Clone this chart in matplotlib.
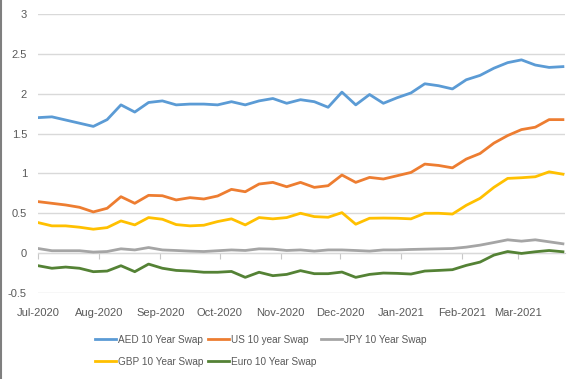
import numpy as np
import pandas as pd
import matplotlib
matplotlib.use("Agg")
import matplotlib.pyplot as plt
import matplotlib.dates as mdates
from matplotlib.lines import Line2D
from matplotlib.ticker import FuncFormatter

plt.rcParams['font.family'] = ['Liberation Sans', 'DejaVu Sans']

# weekly observations, Jul-2020 .. Mar-2021
dates = pd.date_range("2020-07-01", periods=39, freq="7D")

aed = [1.70, 1.71, 1.67, 1.63, 1.59, 1.675, 1.86, 1.77, 1.89, 1.91,
       1.86, 1.87, 1.87, 1.86, 1.90, 1.86, 1.91, 1.94, 1.88, 1.925,
       1.90, 1.83, 2.02, 1.86, 1.99, 1.88, 1.95, 2.01, 2.125, 2.10,
       2.06, 2.175, 2.23, 2.32, 2.39, 2.425, 2.36, 2.33, 2.34]
us = [0.646, 0.625, 0.604, 0.575, 0.517, 0.5625, 0.708, 0.625, 0.725, 0.72,
      0.667, 0.696, 0.679, 0.717, 0.80, 0.77, 0.867, 0.8875, 0.833, 0.8875,
      0.825, 0.846, 0.98, 0.8875, 0.95, 0.93, 0.971, 1.0125, 1.117, 1.10,
      1.07, 1.18, 1.25, 1.38, 1.475, 1.55, 1.58, 1.675, 1.675]
jpy = [0.058, 0.03, 0.03, 0.03, 0.013, 0.02, 0.054, 0.04, 0.07, 0.04,
       0.033, 0.025, 0.02, 0.03, 0.04, 0.033, 0.054, 0.05, 0.033, 0.04,
       0.025, 0.04, 0.04, 0.033, 0.025, 0.04, 0.04, 0.046, 0.05, 0.054,
       0.058, 0.075, 0.10, 0.133, 0.167, 0.15, 0.167, 0.142, 0.117]
gbp = [0.383, 0.342, 0.342, 0.325, 0.30, 0.32, 0.404, 0.354, 0.446, 0.425,
       0.358, 0.342, 0.35, 0.396, 0.43, 0.354, 0.446, 0.43, 0.446, 0.50,
       0.458, 0.45, 0.508, 0.3625, 0.4375, 0.44, 0.4375, 0.43, 0.50, 0.50,
       0.49, 0.60, 0.6875, 0.825, 0.9375, 0.946, 0.958, 1.02, 0.99]
euro = [-0.158, -0.19, -0.175, -0.19, -0.233, -0.225, -0.158, -0.233, -0.1375, -0.19,
        -0.217, -0.225, -0.24, -0.24, -0.23, -0.304, -0.24, -0.283, -0.267, -0.22,
        -0.258, -0.258, -0.2375, -0.304, -0.267, -0.25, -0.254, -0.2625, -0.225, -0.217,
        -0.208, -0.154, -0.1125, -0.025, 0.02, -0.004, 0.017, 0.033, 0.017]

series = [
    ("AED 10 Year Swap", aed, "#5B9BD5"),
    ("US 10 year Swap", us, "#ED7D31"),
    ("JPY 10 Year Swap", jpy, "#A5A5A5"),
    ("GBP 10 Year Swap", gbp, "#FFC000"),
    ("Euro 10 Year Swap", euro, "#548235"),
]

fig = plt.figure(figsize=(5.77, 3.79), dpi=100)
ax = fig.add_axes([0.066, 0.227, 0.913, 0.736])

lines = {}
for name, vals, col in series:
    ln, = ax.plot(dates, vals, color=col, lw=2, label=name, solid_joinstyle='round')
    lines[name] = ln

ax.set_ylim(-0.5, 3)
ax.set_yticks(np.arange(-0.5, 3.01, 0.5))
ax.yaxis.set_major_formatter(FuncFormatter(lambda v, p: f"{v:g}"))
ax.set_xlim(pd.Timestamp("2020-07-01"), pd.Timestamp("2021-03-25"))
ax.xaxis.set_major_locator(mdates.MonthLocator())
ax.xaxis.set_major_formatter(mdates.DateFormatter("%b-%Y"))

ax.grid(axis='y', color='#d9d9d9', lw=1)
ax.set_axisbelow(True)
for s in ax.spines.values():
    s.set_visible(False)
ax.tick_params(axis='both', length=0, labelsize=8, labelcolor='#595959')
ax.tick_params(axis='x', pad=11)
ax.tick_params(axis='y', pad=8)

# horizontal axis line at zero with month tick marks
zero = ax.secondary_xaxis(0.5 / 3.5)
zero.xaxis.set_major_locator(mdates.MonthLocator())
zero.spines['bottom'].set_color('#c8c8c8')
zero.tick_params(axis='x', length=4, color='#c8c8c8', labelbottom=False)

order = ["AED 10 Year Swap", "GBP 10 Year Swap", "US 10 year Swap",
         "Euro 10 Year Swap", "JPY 10 Year Swap"]
fig.legend([lines[n] for n in order], order, ncol=3, frameon=False,
           loc='center', bbox_to_anchor=(0.452, 0.074), fontsize=7.2,
           labelcolor='#595959', handlelength=2.1, handletextpad=0.15,
           columnspacing=0.5, labelspacing=1.2)

fig.add_artist(Line2D([0.002, 0.002], [0, 1], color='#7f7f7f', lw=1.5))

fig.savefig("out.png", dpi=100)
